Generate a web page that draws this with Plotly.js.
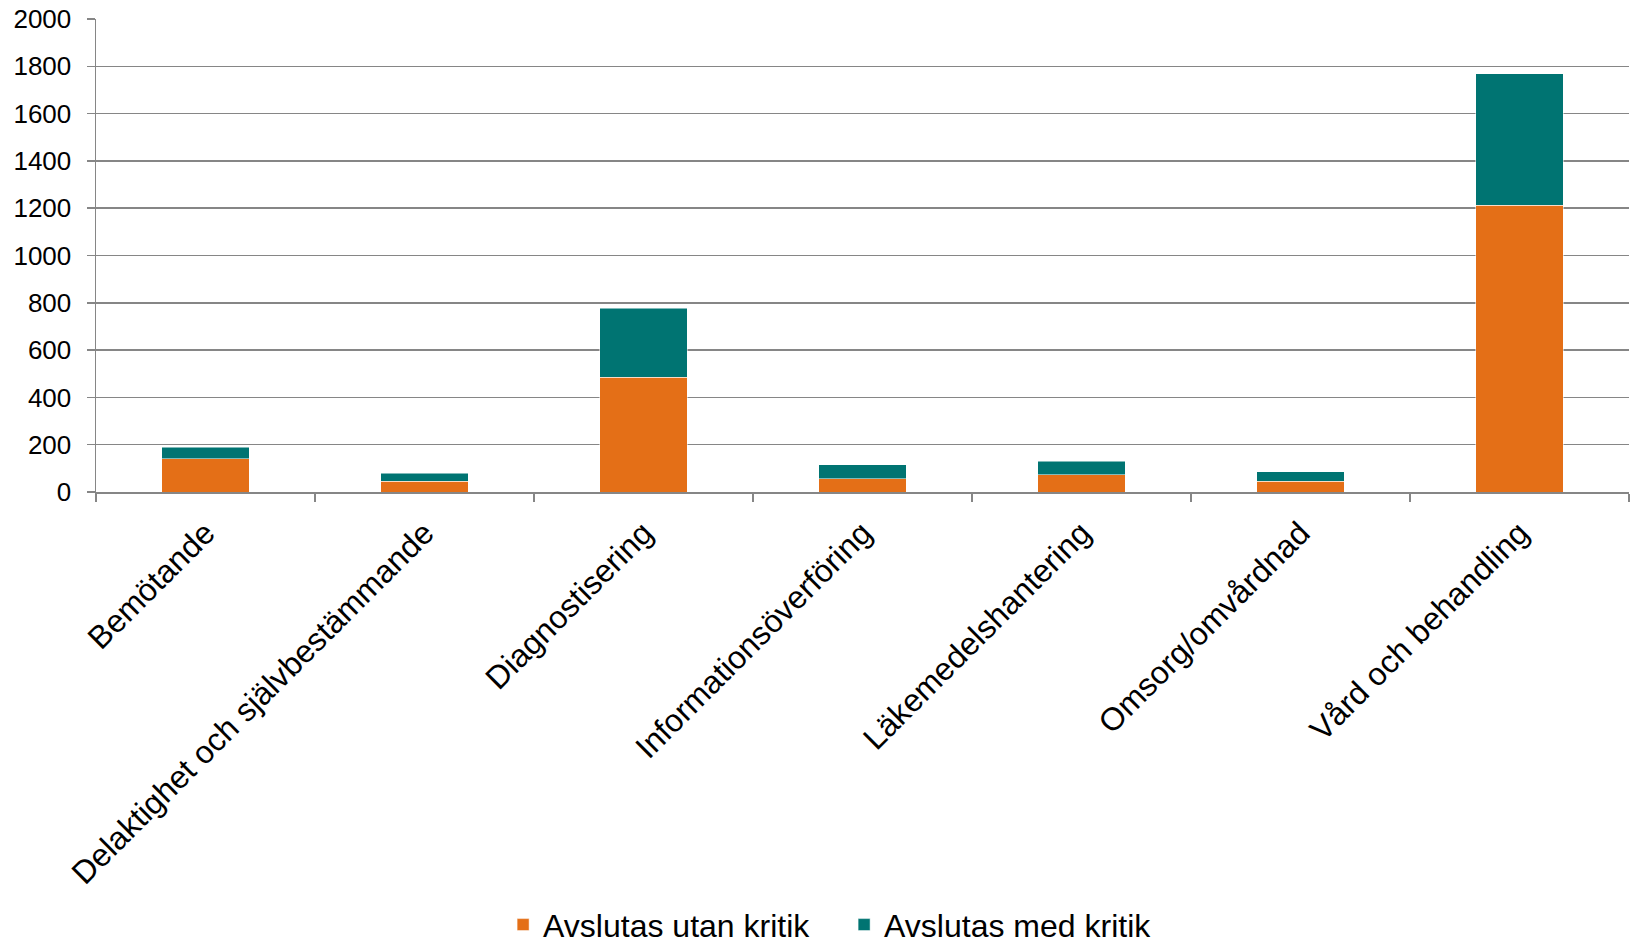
<!DOCTYPE html>
<html><head><meta charset="utf-8">
<script src="https://cdn.plot.ly/plotly-3.0.1.min.js"></script>
<style>html,body{margin:0;padding:0;background:#fff}#chart{width:1635px;height:947px}</style>
</head><body><div id="chart"></div>
<script>
const categories = ["Bemötande","Delaktighet och självbestämmande","Diagnostisering","Informationsöverföring","Läkemedelshantering","Omsorg/omvårdnad","Vård och behandling"];
const utanKritik = [140, 45, 485, 55, 72, 45, 1212];
const medKritik = [50, 35, 293, 61, 58, 40, 556];
const seriesNames = ["Avslutas utan kritik","Avslutas med kritik"];
const yTicks = [0,200,400,600,800,1000,1200,1400,1600,1800,2000];

const fam = "Liberation Sans, Arial, sans-serif";
const yFont = {family: fam, size: 26, color: "#000"};
const xFont = {family: fam, size: 32, color: "#000"};
const legFont = {family: fam, size: 32, color: "#000"};
const traces = [
  {type:"bar", name:seriesNames[0], x:categories, y:utanKritik, marker:{color:"#E46F17", line:{color:"#fff", width:0.5}}, width:0.4},
  {type:"bar", name:seriesNames[1], x:categories, y:medKritik, marker:{color:"#007472", line:{color:"#fff", width:0.5}}, width:0.4}
];
const layout = {
  barmode:"stack",
  width:1635, height:947,
  margin:{l:96, r:6, t:19, b:455, autoexpand:false},
  paper_bgcolor:"#fff", plot_bgcolor:"#fff",
  font: yFont,
  showlegend:true,
  legend:{orientation:"h", x:0.488, xanchor:"center", y:-0.915, yanchor:"middle", font:legFont, itemwidth:30,
          entrywidth:296, entrywidthmode:"pixels", traceorder:"normal"},
  xaxis:{type:"category", tickangle:-45, tickson:"boundaries", ticks:"outside", ticklen:8, tickcolor:"#868686", tickwidth:1.5,
         ticklabelstandoff:8,
         showline:true, linecolor:"#868686", linewidth:1.5, showgrid:false, tickfont:xFont, automargin:false},
  yaxis:{range:[0,2000], tickvals:yTicks, ticktext:yTicks.map(String), ticks:"outside", ticklen:8, tickcolor:"#868686", tickwidth:1.5,
         ticklabelstandoff:10,
         showline:true, linecolor:"#868686", linewidth:1.5, gridcolor:"#868686", gridwidth:1.5, zeroline:false, tickfont:yFont, automargin:false}
};
Plotly.newPlot("chart", traces, layout, {displayModeBar:false, staticPlot:true});
</script></body></html>
